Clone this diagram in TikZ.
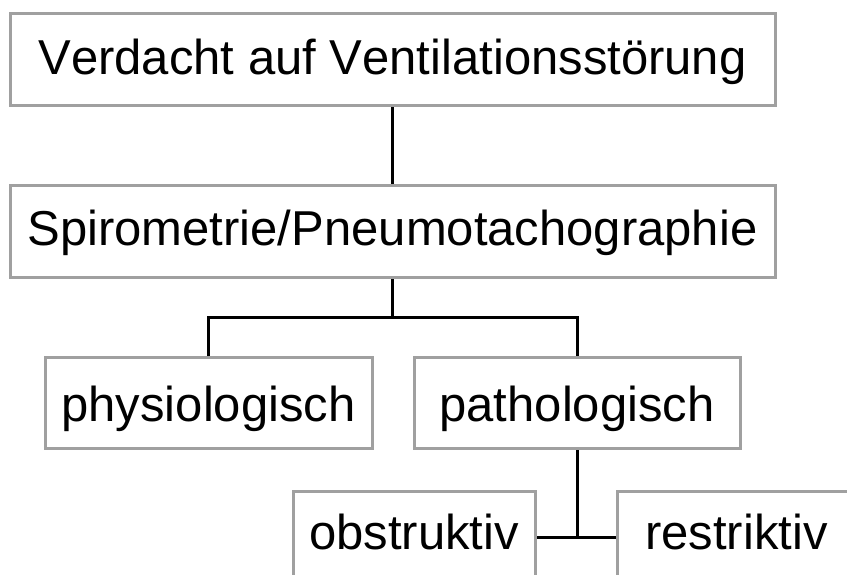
\documentclass[tikz,border=0pt]{standalone}
\usepackage{fontspec}
\setmainfont[Kerning=Off]{Liberation Sans}
\usetikzlibrary{backgrounds}
\definecolor{boxgray}{RGB}{160,160,160}
\tikzset{
  box/.style={draw=boxgray, line width=3pt, fill=white, inner sep=0pt,
    text height=33pt, text depth=4pt,
    font=\fontsize{49}{58}\selectfont},
  conn/.style={draw=black, line width=3pt}
}
\begin{document}
\begin{tikzpicture}[x=1pt,y=-1pt]
\useasboundingbox (0,0) rectangle (847,574);
\clip (0,0) rectangle (847,574);
\node[box, text height=34pt, minimum width=765pt, minimum height=92pt] (v) at (392.5,59) {Verdacht auf Ventilationsstörung};
\node[box, text height=32pt, minimum width=765pt, minimum height=92pt] (s) at (392.5,231) {Spirometrie/Pneumotachographie};
\node[box, text height=42pt, minimum width=327pt, minimum height=91pt] (phys) at (208.5,402.5) {physiologisch};
\node[box, text height=42pt, minimum width=326pt, minimum height=91pt] (path) at (577,402.5) {pathologisch};
\node[box, text height=29pt, minimum width=242pt, minimum height=92pt] (obs) at (414,537) {obstruktiv};
\node[box, text height=29pt, minimum width=239pt, minimum height=92pt] (res) at (736.5,537) {restriktiv};
\coordinate (br) at (392.5,317);
\begin{scope}[on background layer]
\draw[conn] (v.south) -- (s.north);
\draw[conn] (s.south) -- (br);
\draw[conn] (phys.north) |- (br) -| (path.north);
\draw[conn] (path.south) -- (path.south |- obs.east);
\draw[conn] (obs.east) -- (res.west);
\end{scope}
\end{tikzpicture}
\end{document}
